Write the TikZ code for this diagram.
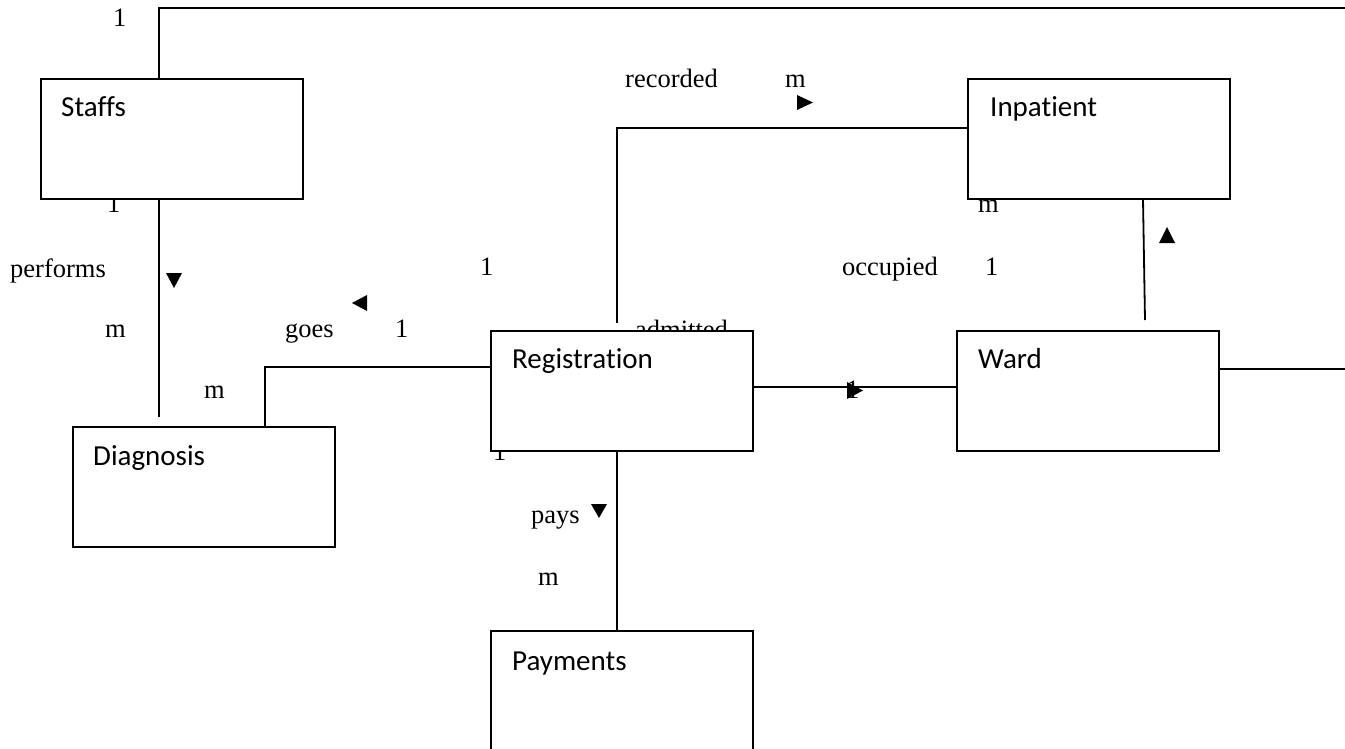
\documentclass[tikz,border=0pt]{standalone}
\usepackage{fontspec}
\setmainfont{Liberation Serif}
\newfontfamily\boxfont[Ligatures=NoCommon]{Carlito}
\pgfdeclarelayer{background}
\pgfsetlayers{background,main}
\tikzset{
  entity/.style={draw, fill=white, line width=2pt, rectangle, anchor=north west,
    minimum width=262pt, minimum height=120pt, inner sep=0pt, outer sep=0pt},
  etext/.style={anchor=base west, font=\boxfont\fontsize{29}{34}\selectfont, inner sep=0pt},
  lbl/.style={anchor=base west, font=\fontsize{26.5}{30}\selectfont, inner sep=0pt},
  conn/.style={line width=1.8pt},
  tri/.style={fill=black}
}
\begin{document}
\begin{tikzpicture}[x=1pt,y=-1pt]
\useasboundingbox (0,0) rectangle (1345,749);
\clip (0,0) rectangle (1345,749);

% labels (behind boxes)
\begin{pgfonlayer}{background}
\node[lbl] (l1top) at (113,27) {1};
\node[lbl] (l1staff) at (107,213) {1};
\node[lbl] (lperf) at (10,277) {performs};
\node[lbl] (lmperf) at (105,337) {m};
\node[lbl] (lmdiag) at (204,398) {m};
\node[lbl] (lgoes) at (285,337) {goes};
\node[lbl] (l1goes) at (395,337) {1};
\node[lbl] (l1rec) at (480,275) {1};
\node[lbl] (lrec) at (625,88) {recorded};
\node[lbl] (lmrec) at (785,88) {m};
\node[lbl] (ladm) at (635,338) {admitted};
\node[lbl] (l1reg) at (493,460) {1};
\node[lbl] (lpays) at (531,523) {pays};
\node[lbl] (lmpay) at (538,585) {m};
\node[lbl] (lmin) at (978,212) {m};
\node[lbl] (locc) at (842,275) {occupied};
\node[lbl] (l1occ) at (985,275) {1};
\node[lbl] (l1adm) at (846,398) {1};
% triangles
\fill[tri] (166,273) -- (182,273) -- (174,288) -- cycle;
\fill[tri] (367,295) -- (367,311) -- (352,303) -- cycle;
\fill[tri] (797,95) -- (797,110) -- (813,102.5) -- cycle;
\fill[tri] (847,382) -- (847,399) -- (863,390.5) -- cycle;
\fill[tri] (1159,243) -- (1175,243) -- (1167,227) -- cycle;
\fill[tri] (591,504) -- (607,504) -- (599,518) -- cycle;
\end{pgfonlayer}

% entities
\node[entity] (staffs) at (41,79) {};
\node[entity] (inpatient) at (968,79) {};
\node[entity] (registration) at (491,331) {};
\node[entity] (ward) at (957,331) {};
\node[entity] (diagnosis) at (73,427) {};
\node[entity] (payments) at (491,631) {};

\node[etext] (staffs-t) at (61,117) {Staffs};
\node[etext] (inpatient-t) at (990,117) {Inpatient};
\node[etext] (registration-t) at (512,368) {Registration};
\node[etext] (ward-t) at (978,368) {Ward};
\node[etext] (diagnosis-t) at (93,465) {Diagnosis};
\node[etext] (payments-t) at (512,670) {Payments};

% free ends / bend points
\coordinate (topx) at (159,0);
\coordinate (topend) at (1345,8);
\coordinate (perfend) at (159,417);
\coordinate (goesbend) at (265,367);
\coordinate (recstart) at (617,323);
\coordinate (recbend) at (617,128);
\coordinate (payx) at (617,0);
\coordinate (admy) at (0,387);
\coordinate (occx) at (1143,0);
\coordinate (occend) at (1145,320);
\coordinate (wardend) at (1345,369);

% connectors
\draw[conn] (staffs.north -| topx) |- (topend);
\draw[conn] (staffs.south -| perfend) -- (perfend);
\draw[conn] (diagnosis.north -| goesbend) -- (goesbend) -- (registration.west |- goesbend);
\draw[conn] (recstart) -- (recbend) -- (inpatient.west |- recbend);
\draw[conn] (registration.south -| payx) -- (payments.north -| payx);
\draw[conn] (registration.east |- admy) -- (ward.west |- admy);
\draw[conn] (inpatient.south -| occx) -- (occend);
\draw[conn] (ward.east |- wardend) -- (wardend);
\end{tikzpicture}
\end{document}
